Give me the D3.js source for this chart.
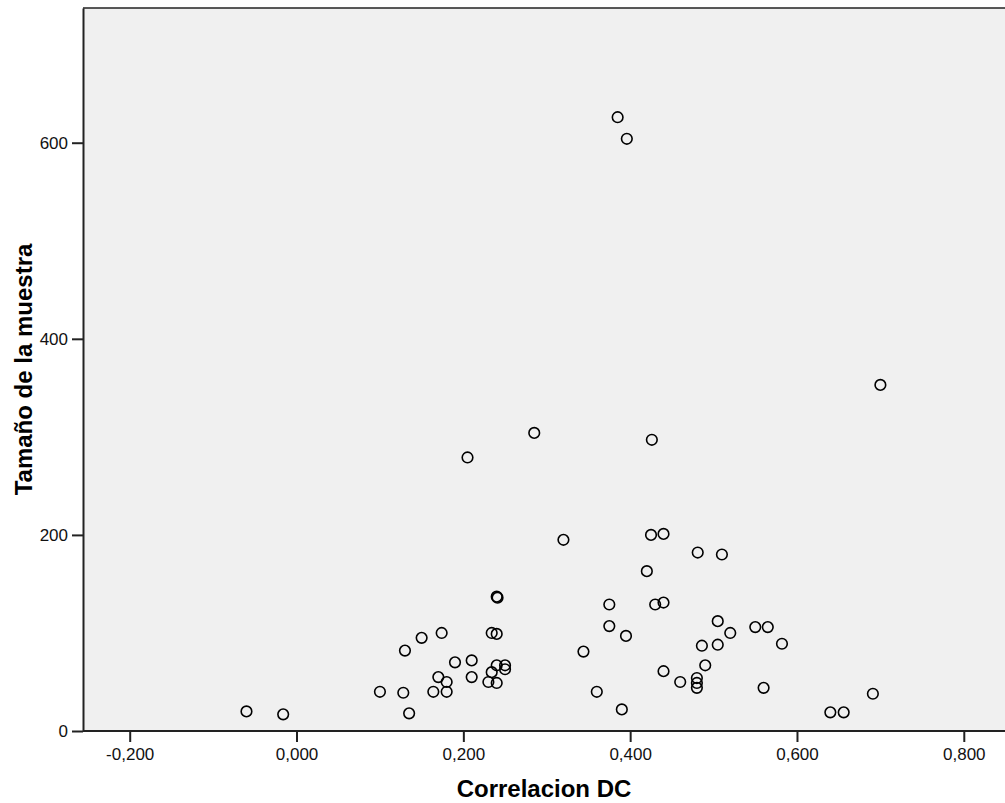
<!DOCTYPE html>
<html>
<head>
<meta charset="utf-8">
<script src="https://cdn.jsdelivr.net/npm/d3@7"></script>
<style>
    body { margin: 0; background: #fff; }
    svg { display: block; font-family: Arial, 'Liberation Sans', sans-serif; }
</style>
</head>
<body>
<svg width="1005" height="803"></svg>
<script>
// correlation (x) and sample size (y) for each study
const correlacion = [
    -0.060, -0.016, 0.100, 0.128, 0.135, 0.130, 0.150, 0.174, 0.234, 0.240,
    0.190, 0.210, 0.210, 0.170, 0.180, 0.164, 0.180, 0.240, 0.250, 0.250,
    0.234, 0.230, 0.240, 0.240, 0.241,
    0.320, 0.425, 0.440, 0.481, 0.510, 0.420, 0.375, 0.430, 0.440, 0.375,
    0.395, 0.505, 0.550, 0.565, 0.520, 0.582, 0.486, 0.505, 0.344, 0.490,
    0.440, 0.460, 0.480, 0.480, 0.480, 0.560, 0.360, 0.390, 0.640, 0.656,
    0.691,
    0.385, 0.396, 0.700, 0.285, 0.205, 0.426
];
const tamano = [
    20, 17, 40, 39, 18, 82, 95, 100, 100, 99,
    70, 72, 55, 55, 50, 40, 40, 67, 67, 63,
    60, 50, 49, 137, 136,
    195, 200, 201, 182, 180, 163, 129, 129, 131, 107,
    97, 112, 106, 106, 100, 89, 87, 88, 81, 67,
    61, 50, 54, 49, 44, 44, 40, 22, 19, 19,
    38,
    626, 604, 353, 304, 279, 297
];
const xTicks = [-0.2, 0, 0.2, 0.4, 0.6, 0.8];
const yTicks = [0, 200, 400, 600];

const svg = d3.select('svg');
const plot = { left: 83, top: 8, right: 1010, bottom: 731 };

const x = d3.scaleLinear().domain([-0.256, 0.85]).range([plot.left, 1005.5]);
const y = d3.scaleLinear().domain([0, 737.4]).range([plot.bottom, plot.top]);

// spanish style numbers: 0,200
const es = d3.formatLocale({ decimal: ',', thousands: '.', grouping: [3], currency: ['', ''], minus: '-' });

// grey plot area
svg.append('rect')
    .attr('x', plot.left).attr('y', plot.top)
    .attr('width', plot.right - plot.left).attr('height', plot.bottom - plot.top)
    .attr('fill', '#f0f0f0');

svg.append('line')
    .attr('x1', plot.left).attr('x2', plot.right)
    .attr('y1', plot.top).attr('y2', plot.top)
    .attr('stroke', '#222').attr('stroke-width', 1.5);

const xAxis = svg.append('g')
    .attr('transform', 'translate(0,' + plot.bottom + ')')
    .call(d3.axisBottom(x).tickValues(xTicks).tickFormat(es.format('.3f')).tickSizeInner(11).tickSizeOuter(0).tickPadding(6));

const yAxis = svg.append('g')
    .attr('transform', 'translate(' + plot.left + ',0)')
    .call(d3.axisLeft(y).tickValues(yTicks).tickFormat(d3.format('d')).tickSizeInner(11).tickSizeOuter(0).tickPadding(4));

[xAxis, yAxis].forEach(function(a) {
    a.select('.domain').attr('stroke', '#222').attr('stroke-width', 2);
    a.selectAll('.tick line').attr('stroke', '#222').attr('stroke-width', 2);
    a.selectAll('.tick text').attr('fill', '#111').style('font-size', '17px').style('font-family', 'Arial, Liberation Sans, sans-serif');
});
xAxis.select('.domain').attr('d', 'M' + plot.left + ',0H' + plot.right);

// points
svg.append('g')
    .selectAll('circle')
    .data(d3.range(correlacion.length))
    .enter().append('circle')
    .attr('cx', (i) => x(correlacion[i]))
    .attr('cy', (i) => y(tamano[i]))
    .attr('r', 5.3)
    .attr('fill', 'none')
    .attr('stroke', '#000')
    .attr('stroke-width', 1.6);

// axis titles
svg.append('text')
    .attr('x', (plot.left + 1005) / 2).attr('y', 797)
    .attr('text-anchor', 'middle')
    .style('font-size', '24px').style('font-weight', 'bold')
    .text('Correlacion DC');

svg.append('text')
    .attr('transform', 'translate(32,' + (plot.top + plot.bottom) / 2 + ') rotate(-90)')
    .attr('text-anchor', 'middle')
    .style('font-size', '24px').style('font-weight', 'bold')
    .text('Tamaño de la muestra');
</script>
</body>
</html>
